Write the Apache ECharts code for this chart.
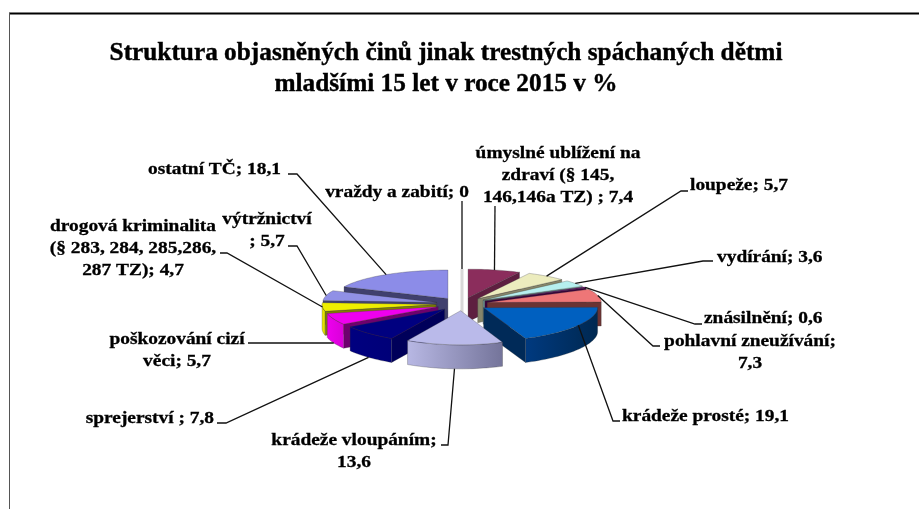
<!DOCTYPE html>
<html>
<head>
<meta charset="utf-8">
<style>
  html, body { margin: 0; padding: 0; background: #fff; }
  #main { width: 919px; height: 509px; }
</style>
<script src="https://cdn.jsdelivr.net/npm/echarts@6/dist/echarts.min.js"></script>
</head>
<body>
<div id="main"></div>
<script>
// values clockwise from 12 o'clock
var categories = ['vraždy a zabití', 'úmyslné ublížení na zdraví', 'loupeže', 'vydírání', 'znásilnění', 'pohlavní zneužívání', 'krádeže prosté', 'krádeže vloupáním', 'sprejerství', 'poškozování cizí věci', 'drogová kriminalita', 'výtržnictví', 'ostatní TČ']
var values = [0, 7.4, 5.7, 3.6, 0.6, 7.3, 19.1, 13.6, 7.8, 5.7, 4.7, 5.7, 18.1]
var labelTexts = [
  'vraždy a zabití; 0',
  'úmyslné ublížení na\nzdraví (§ 145,\n146,146a TZ) ; 7,4',
  'loupeže; 5,7',
  'vydírání; 3,6',
  'znásilnění; 0,6',
  'pohlavní zneužívání;\n7,3',
  'krádeže prosté; 19,1',
  'krádeže vloupáním;\n13,6',
  'sprejerství ; 7,8',
  'poškozování cizí\nvěci; 5,7',
  'drogová kriminalita\n(§ 283, 284, 285,286,\n287 TZ); 4,7',
  'výtržnictví\n; 5,7',
  'ostatní TČ; 18,1'
]
var titleLines = 'Struktura objasněných činů jinak trestných spáchaných dětmi\nmladšími 15 let v roce 2015 v %'

var topColors = ['#d8d8d8', '#8b2d5c', '#ececbe', '#b6efef', '#660066', '#ee7677', '#0060c0', '#babaea', '#000080', '#ee00ee', '#eeee00', '#9090e6', '#8c8ce8']
var sideColors = ['#d8d8d8', '#5e1f40', '#85856a', '#6d9090', '#3a003a', '#6b3333', '#002a58', '#6f6f96', '#00005a', '#6e006e', '#808000', '#44446e', '#40406e']
var arcColors = [
  ['#d8d8d8', '#d8d8d8'], ['#5e1f40', '#5e1f40'], ['#85856a', '#85856a'], ['#6d9090', '#6d9090'],
  ['#3a003a', '#3a003a'], ['#7a3838', '#6b3333'], ['#003a80', '#002850'], ['#b8b8e4', '#74749a'],
  ['#000080', '#000078'], ['#ee00ee', '#d800d8'], ['#eeee00', '#d8d800'], ['#9090e6', '#9090e6'], ['#8c8ce8', '#8c8ce8']
]

// pie projection
var cx = 462, cy = 304, R = 114, tilt = 0.25, depth = 24, explode = 26, frontStretch = 0.0012

// where each label sits and how its leader reaches it (label anchor, then leader bend + end)
var labelLayout = [
  { x: 397, y: 193, align: 'center', leader: [[462, 201]] },
  { x: 558, y: 176, align: 'center', leader: [[495, 206]] },
  { x: 690, y: 186, align: 'left', leader: [[681, 191], [688, 191]] },
  { x: 717, y: 258, align: 'left', leader: [[703, 261], [713, 261]] },
  { x: 704, y: 319, align: 'left', leader: [[695, 324], [702, 324]] },
  { x: 750, y: 353, align: 'center', leader: [[653, 346], [660, 346]] },
  { x: 622, y: 417, align: 'left', leader: [[613, 421], [620, 421]] },
  { x: 354, y: 452, align: 'center', wall: true, leader: [[448, 445], [441, 445]] },
  { x: 214, y: 419, align: 'right', wall: true, leader: [[226, 423], [217, 423]] },
  { x: 177, y: 351, align: 'center', wall: true, leader: [[248, 343]] },
  { x: 133, y: 248.5, align: 'center', leader: [[227, 253], [220, 253]] },
  { x: 267, y: 231, align: 'center', leader: [[297, 246], [288, 246]] },
  { x: 281, y: 170, align: 'right', leader: [[297, 174], [288, 174]] }
]

var total = values.reduce(function (a, b) { return a + b }, 0)
var slices = []
var acc = 0
values.forEach(function (v) {
  var start = acc / total * Math.PI * 2
  acc += v
  var end = acc / total * Math.PI * 2
  var mid = (start + end) / 2
  slices.push({
    start: start,
    end: end,
    mid: mid,
    px: explode * Math.sin(mid),
    py: -explode * Math.cos(mid)
  })
})

// plane coords -> screen, the near half of the disc is slightly larger
function project (px, py, drop) {
  var k = 1 + Math.max(0, py) * frontStretch
  return [cx + px, cy + py * tilt * k + (drop || 0)]
}

function apex (s, drop) {
  return project(s.px, s.py, drop)
}

function rim (s, a, drop) {
  return project(s.px + R * Math.sin(a), s.py - R * Math.cos(a), drop)
}

function arcPoints (s, a0, a1, drop) {
  var pts = []
  var n = Math.max(1, Math.ceil((a1 - a0) / 0.03))
  for (var i = 0; i <= n; i++) {
    pts.push(rim(s, a0 + (a1 - a0) * i / n, drop))
  }
  return pts
}

function renderSlice (params) {
  var i = params.dataIndex
  var s = slices[i]
  var z = Math.round((1 - Math.cos(s.mid)) * 100)
  var edge = 'rgba(50,50,50,0.55)'
  var children = []

  if (values[i] === 0) {
    // empty slice only shows up as a thin upright sliver
    var top = rim(s, s.mid)
    var low = apex(s, depth)
    children.push({
      type: 'line',
      shape: { x1: top[0], y1: top[1], x2: low[0], y2: low[1] },
      style: { stroke: topColors[i], lineWidth: 3 },
      z2: z
    })
  } else {
    // radial walls, only the ones facing the viewer
    if (Math.sin(s.start) < 0) {
      children.push({
        type: 'polygon',
        shape: { points: [apex(s), rim(s, s.start), rim(s, s.start, depth), apex(s, depth)] },
        style: { fill: sideColors[i], stroke: edge, lineWidth: 0.5 },
        z2: z
      })
    }
    if (Math.sin(s.end) > 0) {
      children.push({
        type: 'polygon',
        shape: { points: [apex(s), rim(s, s.end), rim(s, s.end, depth), apex(s, depth)] },
        style: { fill: sideColors[i], stroke: edge, lineWidth: 0.5 },
        z2: z
      })
    }
    // outer wall on the front half
    var a0 = Math.max(s.start, Math.PI / 2)
    var a1 = Math.min(s.end, Math.PI * 1.5)
    if (a1 > a0) {
      var upper = arcPoints(s, a0, a1, 0)
      var lower = arcPoints(s, a0, a1, depth).reverse()
      children.push({
        type: 'polygon',
        shape: { points: upper.concat(lower) },
        style: {
          fill: new echarts.graphic.LinearGradient(0, 0, 1, 0, [
            { offset: 0, color: arcColors[i][0] },
            { offset: 1, color: arcColors[i][1] }
          ]),
          stroke: edge,
          lineWidth: 0.5
        },
        z2: z + 1
      })
    }
    // top
    children.push({
      type: 'polygon',
      shape: { points: [apex(s)].concat(arcPoints(s, s.start, s.end, 0)) },
      style: { fill: topColors[i], stroke: edge, lineWidth: 0.5 },
      z2: z + 2
    })
  }

  // leader + label
  var layout = labelLayout[i]
  var from = rim(s, s.mid, layout.wall ? depth : 0)
  children.push({
    type: 'polyline',
    shape: { points: [from].concat(layout.leader) },
    style: { stroke: '#111', lineWidth: 1.3, fill: 'none' },
    z2: 300
  })
  children.push({
    type: 'text',
    x: layout.x,
    y: layout.y,
    scaleX: 1.14,
    style: {
      text: labelTexts[i],
      fontFamily: 'Liberation Serif',
      fontWeight: 'bold',
      fontSize: 17,
      lineHeight: 22,
      fill: '#000',
      stroke: '#000',
      lineWidth: 0.3,
      align: layout.align,
      verticalAlign: 'middle'
    },
    z2: 300
  })
  return { type: 'group', children: children }
}

var myChart = echarts.init(document.getElementById('main'), null, { renderer: 'canvas' })
myChart.setOption({
  animation: false,
  backgroundColor: '#fff',
  graphic: [
    { type: 'line', shape: { x1: 9, y1: 13.5, x2: 919, y2: 13.5 }, style: { stroke: '#000', lineWidth: 2 } },
    { type: 'line', shape: { x1: 9.5, y1: 13, x2: 9.5, y2: 509 }, style: { stroke: '#555', lineWidth: 1 } },
    {
      type: 'text',
      x: 446,
      y: 69,
      scaleX: 1.012,
      style: {
        text: titleLines,
        fontFamily: 'Liberation Serif',
        fontWeight: 'bold',
        fontSize: 25,
        lineHeight: 31,
        fill: '#000',
        stroke: '#000',
        lineWidth: 0.4,
        align: 'center',
        verticalAlign: 'middle'
      }
    }
  ],
  series: [{
    type: 'custom',
    coordinateSystem: 'none',
    name: 'Struktura',
    data: categories.map(function (c, i) { return { name: c, value: values[i] } }),
    renderItem: renderSlice,
    silent: true
  }]
})
</script>
</body>
</html>
